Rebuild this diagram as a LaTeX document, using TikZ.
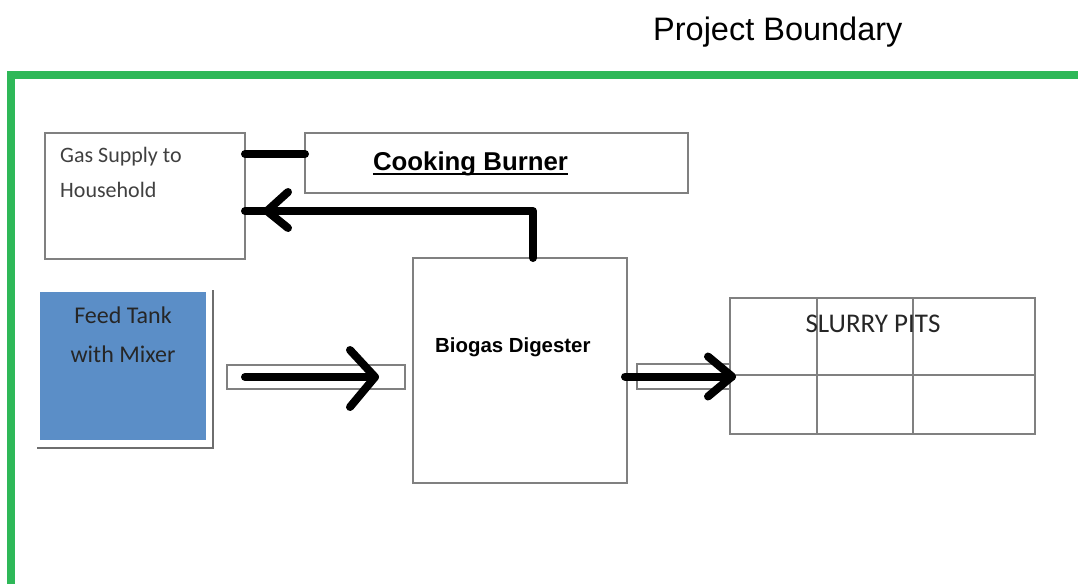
\documentclass[tikz,border=0pt]{standalone}
\usepackage{fontspec}
\newfontfamily\calib{Carlito}
\newfontfamily\arial{Liberation Sans}
\definecolor{bgreen}{RGB}{46,184,88}
\definecolor{tankblue}{RGB}{91,142,199}
\definecolor{boxgray}{RGB}{128,128,128}
\definecolor{shadowgray}{RGB}{110,110,110}
\definecolor{txtgray}{RGB}{64,64,64}
\definecolor{txtdark}{RGB}{38,38,38}
\tikzset{
  box/.style={draw=boxgray, line width=1.5pt, fill=white, rectangle, inner sep=0pt, outer sep=0pt, anchor=north west},
  flow/.style={line width=8pt, black, line cap=round, line join=round},
  chev/.style={line width=8pt, black, line cap=round, line join=round},
  gridline/.style={draw=boxgray, line width=1.5pt},
}
\begin{document}
\begin{tikzpicture}[x=1pt,y=-1pt]
\useasboundingbox (0,0) rectangle (1078,584);
\fill[white] (0,0) rectangle (1078,584);
% project boundary
\node[anchor=base west, inner sep=0pt, font=\arial\fontsize{32.5}{36}\selectfont] (pbt) at (653,40) {Project Boundary};
\draw[bgreen, line width=8pt] (1078,75) -- (11,75) -- (11,584);
% boxes
\node[box, minimum width=200pt, minimum height=126pt] (gas) at (45,133) {};
\node[box, minimum width=383pt, minimum height=60pt] (cb) at (305,133) {};
\node[box, minimum width=214pt, minimum height=225pt] (dig) at (413,258) {};
\node[box, minimum width=178pt, minimum height=24pt] (p1) at (227,365) {};
\node[box, minimum width=93pt, minimum height=25pt] (p2) at (637,364) {};
\node[box, minimum width=305pt, minimum height=136pt] (sl) at (730,298) {};
\node[rectangle, fill=tankblue, inner sep=0pt, outer sep=0pt, anchor=north west, minimum width=166pt, minimum height=148pt] (feed) at (40,292) {};
\draw[shadowgray, line width=2pt] (feed.north east) ++(7,-2) -- ++(0,158) -- ++(-176,0);
% texts
\node[anchor=base west, inner sep=0pt, text=txtgray, font=\calib\fontsize{22}{26}\selectfont] (gas1) at (60,162) {Gas Supply to};
\node[anchor=base west, inner sep=0pt, text=txtgray, font=\calib\fontsize{22}{26}\selectfont] (gas2) at (60,197) {Household};
\node[anchor=base, inner sep=0pt, font=\arial\bfseries\fontsize{25.8}{30}\selectfont] (cbt) at (470.5,170) {Cooking Burner};
\draw[line width=2pt] ([yshift=-3.5pt]cbt.base west) -- ([yshift=-3.5pt]cbt.base east);
\node[anchor=base west, inner sep=0pt, text=black, font=\arial\bfseries\fontsize{20.4}{24}\selectfont] (digt) at (435,352) {Biogas Digester};
\node[anchor=base, inner sep=0pt, text=txtdark, font=\calib\fontsize{24}{28}\selectfont] (feed1) at (123,323) {Feed Tank};
\node[anchor=base, inner sep=0pt, text=txtdark, font=\calib\fontsize{24}{28}\selectfont] (feed2) at (123,362) {with Mixer};
% slurry grid
\draw[gridline] ([yshift=-77pt]sl.north west) -- ([yshift=-77pt]sl.north east);
\draw[gridline] ([xshift=87pt]sl.north west) -- ([xshift=87pt]sl.south west);
\draw[gridline] ([xshift=183pt]sl.north west) -- ([xshift=183pt]sl.south west);
\node[anchor=base, inner sep=0pt, text=txtdark, font=\calib\fontsize{27}{30}\selectfont] (slt) at (873,332) {SLURRY PITS};
% connectors
\draw[flow] ([yshift=-21pt]gas.north east) -- ([yshift=-21pt]cb.north west);
\draw[flow] ([xshift=13pt]dig.north) |- ([yshift=-78pt]gas.north east);
\draw[chev] ([shift={(43pt,-59pt)}]gas.north east) -- ([shift={(22pt,-78pt)}]gas.north east) -- ([shift={(43pt,-95pt)}]gas.north east);
\draw[flow] ([xshift=18pt]p1.west) -- ([xshift=148pt]p1.west);
\draw[chev] ([shift={(123pt,27pt)}]p1.west) -- ([xshift=148pt]p1.west) -- ([shift={(123pt,-30pt)}]p1.west);
\draw[flow] ([xshift=-12pt]p2.west) -- ([xshift=95pt]p2.west);
\draw[chev] ([shift={(71pt,20pt)}]p2.west) -- ([xshift=95pt]p2.west) -- ([shift={(71pt,-20pt)}]p2.west);
\end{tikzpicture}
\end{document}
